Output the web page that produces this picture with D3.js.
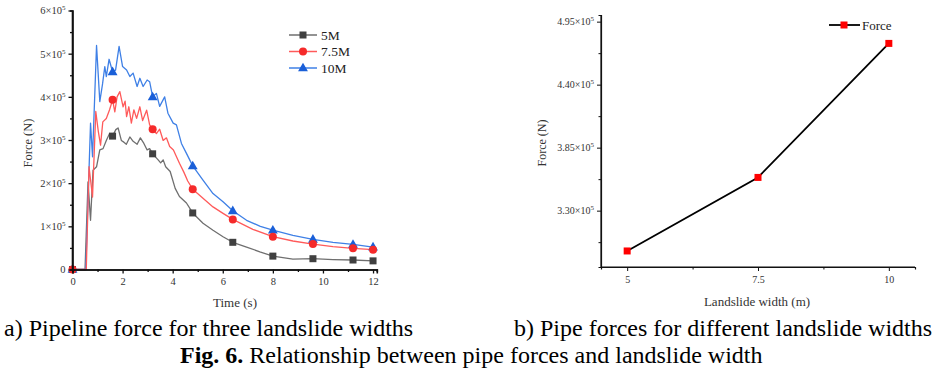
<!DOCTYPE html>
<html>
<head>
<meta charset="utf-8">
<style>
body { margin: 0; background: #fff; }
svg { display: block; font-family: "Liberation Serif", "Times New Roman", serif; }
</style>
</head>
<body>
<svg id="fig" width="942" height="374"></svg>
<script src="https://cdnjs.cloudflare.com/ajax/libs/d3/7.8.5/d3.min.js"></script>
<script>
// ---- data (forces in units of 1e5 N) ----
var time5 = [0, 0.5, 0.62, 0.72, 0.82, 0.96, 1.09, 1.22, 1.35, 1.48, 1.6, 1.73, 1.82, 1.95, 2.05, 2.15, 2.29, 2.42, 2.58, 2.71, 2.85, 2.98, 3.08, 3.2, 3.42, 3.52, 3.62, 3.72, 3.9, 4.1, 4.27, 4.55, 4.8, 5.21, 5.61, 6.01, 6.4, 6.95, 7.48, 8.0, 8.8, 9.6, 10.4, 11.2, 12];
var force5 = [0, 0, 2.03, 1.14, 2.30, 2.38, 2.77, 2.80, 2.99, 3.15, 3.09, 3.24, 3.28, 2.99, 2.95, 2.90, 3.07, 2.97, 2.90, 3.05, 2.92, 2.77, 2.80, 2.68, 2.54, 2.47, 2.54, 2.38, 2.27, 1.88, 1.69, 1.54, 1.31, 1.07, 0.91, 0.76, 0.63, 0.52, 0.41, 0.31, 0.24, 0.25, 0.23, 0.22, 0.20];

var time75 = [0, 0.55, 0.66, 0.8, 0.93, 1.03, 1.12, 1.21, 1.35, 1.48, 1.6, 1.69, 1.78, 1.89, 2.02, 2.1, 2.16, 2.25, 2.35, 2.45, 2.56, 2.69, 2.8, 2.96, 3.08, 3.2, 3.35, 3.48, 3.62, 3.75, 3.88, 4.03, 4.27, 4.45, 4.6, 4.8, 5.21, 5.61, 6.01, 6.4, 7.2, 8.0, 8.8, 9.6, 10.4, 11.2, 12];
var force75 = [0, 0, 2.38, 1.68, 3.66, 3.2, 2.88, 3.42, 3.50, 3.70, 3.93, 3.65, 4.0, 4.12, 3.77, 3.9, 3.54, 3.77, 3.39, 3.70, 3.50, 3.77, 3.45, 3.69, 3.35, 3.25, 3.15, 3.25, 2.99, 3.05, 2.85, 2.77, 2.46, 2.25, 2.05, 1.86, 1.65, 1.45, 1.30, 1.16, 0.93, 0.76, 0.66, 0.59, 0.53, 0.49, 0.46];

var time10 = [0, 0.53, 0.72, 0.8, 0.96, 1.09, 1.2, 1.29, 1.35, 1.46, 1.6, 1.72, 1.86, 2.0, 2.16, 2.29, 2.42, 2.58, 2.69, 2.82, 2.98, 3.08, 3.2, 3.35, 3.48, 3.68, 3.81, 4.02, 4.15, 4.35, 4.55, 4.8, 5.21, 5.61, 6.01, 6.4, 6.95, 7.5, 8.0, 8.8, 9.6, 10.4, 11.2, 12];
var force10 = [0, 0, 3.39, 2.61, 5.19, 3.89, 4.3, 4.70, 4.47, 4.87, 4.58, 4.62, 5.17, 4.70, 4.62, 4.47, 4.55, 4.24, 4.43, 4.24, 4.39, 4.35, 4.00, 4.08, 3.78, 4.00, 3.62, 3.39, 3.35, 2.92, 2.69, 2.40, 2.07, 1.76, 1.57, 1.36, 1.14, 1.00, 0.91, 0.79, 0.70, 0.63, 0.58, 0.52];

var markerTimes = [0, 1.6, 3.2, 4.8, 6.4, 8.0, 9.6, 11.2, 12];
var seriesNames = ['5M', '7.5M', '10M'];
var timeTicks = [0, 2, 4, 6, 8, 10, 12];
var forceTicks = [0, 1, 2, 3, 4, 5, 6];

var widths = [5, 7.5, 10];
var widthForces = [2.948, 3.59, 4.76];
var widthTicks = [5, 7.5, 10];
var widthForceTicks = [3.30, 3.85, 4.40, 4.95];

var svg = d3.select('#fig');

function line(x1, y1, x2, y2, g) {
  return g.append('line').attr('x1', x1).attr('y1', y1).attr('x2', x2).attr('y2', y2);
}

// label like "6×10^5"
function sciLabel(sel, mant) {
  sel.text(null);
  sel.append('tspan').text(mant + '×10');
  sel.append('tspan').attr('dy', -4).attr('font-size', 7).text('5');
}

function drawMarker(g, shape, x, y, color) {
  if (shape === 'square') {
    g.append('rect').attr('x', x - 3.5).attr('y', y - 3.5).attr('width', 7).attr('height', 7).attr('fill', color);
  } else if (shape === 'circle') {
    g.append('circle').attr('cx', x).attr('cy', y).attr('r', 4).attr('fill', color);
  } else {
    g.append('path').attr('d', d3.symbol(d3.symbolTriangle, 42)()).attr('transform', 'translate(' + x + ',' + (y + 0.5) + ')').attr('fill', color);
  }
}

// ================= chart a =================
var ga = svg.append('g');
var xA = d3.scaleLinear().domain([0, 12.15]).range([72.5, 376.8]);
var yA = d3.scaleLinear().domain([0, 6]).range([269.5, 10.5]);

var series = [
  {name: seriesNames[0], t: time5, f: force5, line: '#6f6f6f', mark: '#404040', shape: 'square'},
  {name: seriesNames[2], t: time10, f: force10, line: '#3f80e6', mark: '#1a5fd8', shape: 'triangle'},
  {name: seriesNames[1], t: time75, f: force75, line: '#ff5a5a', mark: '#f52a2a', shape: 'circle'}
];

var lineGen = d3.line().x(function(d) { return xA(d[0]); }).y(function(d) { return yA(d[1]); });

series.forEach(function(s) {
  var pts = s.t.map(function(t, i) { return [t, s.f[i]]; });
  ga.append('path').datum(pts).attr('d', lineGen)
    .attr('fill', 'none').attr('stroke', s.line).attr('stroke-width', 1.3).attr('stroke-linejoin', 'round');
});
series.forEach(function(s) {
  s.t.forEach(function(t, i) {
    if (markerTimes.indexOf(t) >= 0) drawMarker(ga, s.shape, xA(t), yA(s.f[i]), s.mark);
  });
});

// axes
var axXA = ga.append('g').attr('transform', 'translate(0,' + yA(0) + ')')
  .call(d3.axisBottom(xA).tickValues(timeTicks).tickSize(4).tickPadding(4));
ga.append('g').attr('transform', 'translate(0,' + yA(0) + ')')
  .call(d3.axisBottom(xA).tickValues([1, 3, 5, 7, 9, 11]).tickSize(2.5).tickFormat(''));
var axYA = ga.append('g').attr('transform', 'translate(' + xA(0) + ',0)')
  .call(d3.axisLeft(yA).tickValues(forceTicks).tickSize(4).tickPadding(3).tickFormat(d3.format('d')));
ga.append('g').attr('transform', 'translate(' + xA(0) + ',0)')
  .call(d3.axisLeft(yA).tickValues([0.5, 1.5, 2.5, 3.5, 4.5, 5.5]).tickSize(2.5).tickFormat(''));
axYA.selectAll('.tick text').each(function(d) {
  if (d !== 0) sciLabel(d3.select(this), d);
});
ga.selectAll('.domain').attr('stroke-width', 1.6).attr('stroke', '#111');
ga.selectAll('.tick line').attr('stroke-width', 1.3).attr('stroke', '#111');
ga.selectAll('.tick text').attr('font-family', 'Liberation Serif').attr('font-size', 10.5).attr('fill', '#333');
axYA.select('.domain').attr('d', 'M0,' + yA(0) + 'V' + yA(6));

ga.append('text').attr('transform', 'translate(32,143) rotate(-90)').attr('text-anchor', 'middle')
  .attr('font-size', 12.5).attr('fill', '#333').text('Force (N)');
ga.append('text').attr('x', 235).attr('y', 307).attr('text-anchor', 'middle')
  .attr('font-size', 13).attr('fill', '#333').text('Time (s)');

// legend a
var legendOrder = [series[0], series[2], series[1]];
legendOrder.forEach(function(s, i) {
  var y = [35, 51.5, 68][i];
  line(289, y, 317, y, ga).attr('stroke', s.line).attr('stroke-width', 1.5);
  drawMarker(ga, s.shape, 303, y, s.mark);
  ga.append('text').attr('x', 321).attr('y', y + 4.5).attr('font-size', 13.5).attr('fill', '#222').text(s.name);
});

// ================= chart b =================
var gb = svg.append('g');
var xB = d3.scaleLinear().domain([4.5, 10.5]).range([601, 915]);
var yB = d3.scaleLinear().domain([2.808, 5.008]).range([267, 15]);

var lineB = d3.line().x(function(d) { return xB(d[0]); }).y(function(d) { return yB(d[1]); });
var ptsB = widths.map(function(w, i) { return [w, widthForces[i]]; });
gb.append('path').datum(ptsB).attr('d', lineB).attr('fill', 'none').attr('stroke', '#000').attr('stroke-width', 1.8);
ptsB.forEach(function(p) { drawMarker(gb, 'square', xB(p[0]), yB(p[1]), '#ff0000'); });

var axXB = gb.append('g').attr('transform', 'translate(0,267)')
  .call(d3.axisBottom(xB).tickValues(widthTicks).tickSize(4).tickPadding(5).tickFormat(d3.format('')));
gb.append('g').attr('transform', 'translate(0,267)')
  .call(d3.axisBottom(xB).tickValues([6.25, 8.75]).tickSize(2.5).tickFormat(''));
var axYB = gb.append('g').attr('transform', 'translate(601,0)')
  .call(d3.axisLeft(yB).tickValues(widthForceTicks).tickSize(4).tickPadding(3));
gb.append('g').attr('transform', 'translate(601,0)')
  .call(d3.axisLeft(yB).tickValues([3.025, 3.575, 4.125, 4.675]).tickSize(2.5).tickFormat(''));
axYB.selectAll('.tick text').each(function(d) { sciLabel(d3.select(this), d3.format('.2f')(d)); });
gb.selectAll('.domain').attr('stroke-width', 1.2).attr('stroke', '#111');
gb.selectAll('.tick line').attr('stroke-width', 1).attr('stroke', '#111');
gb.selectAll('.tick text').attr('font-family', 'Liberation Serif').attr('font-size', 10).attr('fill', '#333');
axXB.select('.domain').attr('d', 'M601,0H915');
axYB.select('.domain').attr('d', 'M0,267V15');

gb.append('text').attr('transform', 'translate(546,143) rotate(-90)').attr('text-anchor', 'middle')
  .attr('font-size', 12).attr('fill', '#333').text('Force (N)');
gb.append('text').attr('x', 757).attr('y', 306).attr('text-anchor', 'middle')
  .attr('font-size', 13).attr('fill', '#333').text('Landslide width (m)');

line(829, 25, 860, 25, gb).attr('stroke', '#000').attr('stroke-width', 1.8);
drawMarker(gb, 'square', 844, 25, '#ff0000');
gb.append('text').attr('x', 862).attr('y', 29.5).attr('font-size', 13).attr('fill', '#222').text('Force');

// ================= captions =================
svg.append('text').attr('x', 4).attr('y', 336).attr('font-size', 24).attr('fill', '#000')
  .text('a) Pipeline force for three landslide widths');
svg.append('text').attr('x', 514).attr('y', 336).attr('font-size', 24).attr('fill', '#000')
  .text('b) Pipe forces for different landslide widths');
var cap = svg.append('text').attr('x', 180).attr('y', 363).attr('font-size', 24).attr('fill', '#000');
cap.append('tspan').attr('font-weight', 'bold').text('Fig. 6.');
cap.append('tspan').text(' Relationship between pipe forces and landslide width');
</script>
</body>
</html>
